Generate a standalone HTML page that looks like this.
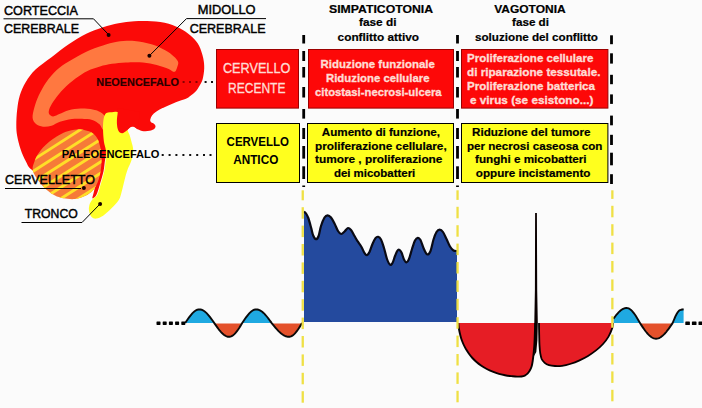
<!DOCTYPE html>
<html><head><meta charset="utf-8"><title>Schema</title>
<style>
html,body{margin:0;padding:0;background:#fbfbfb;}
body{width:702px;height:408px;overflow:hidden;}
svg{display:block;}
text{font-family:"Liberation Sans",sans-serif;}
</style></head><body>
<svg width="702" height="408" viewBox="0 0 702 408">
<rect x="0" y="0" width="702" height="408" fill="#fbfbfb"/>
<path d="M16.3 125.0C16.3 120.6 16.6 114.4 17.2 109.5C17.8 104.6 18.3 100.4 19.7 95.8C21.1 91.2 23.2 86.4 25.8 82.0C28.4 77.6 31.2 73.6 35.5 69.5C39.8 65.4 46.0 61.4 51.5 57.2C57.0 53.0 63.0 48.2 68.7 44.3C74.4 40.4 80.1 36.9 85.8 34.0C91.5 31.1 97.5 29.0 103.0 27.2C108.5 25.4 113.3 24.3 118.5 23.3C123.7 22.3 128.8 21.6 134.3 21.2C139.8 20.8 145.8 20.8 151.5 21.2C157.2 21.6 163.5 22.3 168.7 23.7C173.8 25.1 178.4 27.4 182.4 29.7C186.4 32.0 189.9 34.8 192.7 37.5C195.5 40.2 197.4 42.6 199.2 46.0C200.9 49.4 202.4 54.3 203.2 58.0C204.0 61.7 204.3 64.9 204.2 68.4C204.1 71.9 203.4 76.2 202.7 79.0C201.9 81.8 200.9 83.4 199.7 85.5C198.5 87.6 197.2 89.8 195.6 91.5C194.0 93.2 191.8 94.8 190.2 96.0C188.6 97.2 188.4 97.7 186.0 98.7C183.6 99.7 179.3 100.8 175.8 102.2C172.3 103.6 167.5 105.8 165.0 106.9C162.5 108.0 162.3 107.9 160.6 108.9C158.9 109.9 156.3 111.5 154.8 112.7C153.3 113.9 152.4 114.9 151.6 116.2C150.8 117.5 150.2 119.2 150.2 120.3C150.2 121.4 150.8 122.0 151.4 122.6C152.0 123.2 153.2 123.1 153.9 123.7C154.6 124.3 155.4 125.1 155.5 126.0C155.6 126.9 155.2 128.2 154.2 129.0C153.2 129.8 151.4 130.4 149.6 130.8C147.8 131.2 145.6 131.5 143.6 131.2C141.6 130.9 139.3 130.0 137.6 129.2C135.9 128.4 134.6 126.9 133.3 126.6C132.0 126.3 131.0 126.7 129.9 127.4C128.8 128.1 127.8 129.8 126.5 130.8C125.2 131.8 123.5 133.2 122.2 133.3C120.9 133.4 119.7 132.7 118.9 131.6C118.1 130.5 117.5 128.4 117.2 126.5C116.9 124.6 116.8 122.2 116.9 120.0C117.0 117.8 118.6 113.8 117.6 113.5C116.6 113.2 112.6 114.4 111.0 118.0C109.4 121.6 108.7 129.7 108.0 135.0C107.3 140.3 107.5 145.9 107.0 150.0C106.5 154.1 105.7 156.2 105.1 159.8C104.5 163.4 104.3 167.7 103.5 171.6C102.7 175.5 101.4 179.4 100.2 183.3C99.0 187.2 97.6 192.6 96.3 195.1C95.0 197.6 92.9 198.7 92.4 198.3C92.0 198.0 93.0 195.5 93.6 193.0C94.2 190.5 95.4 186.1 96.0 183.3C96.6 180.5 99.7 176.6 97.0 176.0C94.3 175.4 87.8 179.3 80.0 180.0C72.2 180.7 58.0 181.7 50.0 180.0C42.0 178.3 35.8 172.9 31.8 169.8C27.8 166.7 27.7 164.6 25.8 161.2C23.9 157.8 22.0 153.4 20.6 149.2C19.2 145.0 17.9 140.0 17.2 136.0C16.5 132.0 16.3 129.4 16.3 125.0Z" fill="#fb0a08"/>
<path d="M174.7 71.8C176.2 71.3 177.0 67.7 177.6 66.0C178.2 64.3 178.6 63.1 178.0 61.5C177.4 59.9 175.9 58.3 173.8 56.4C171.7 54.5 168.9 52.3 165.2 50.3C161.5 48.3 156.7 45.9 151.5 44.3C146.3 42.7 140.1 41.3 134.3 40.9C128.6 40.5 122.2 41.0 117.0 41.8C111.8 42.6 108.2 43.8 103.0 45.5C97.8 47.2 91.5 49.3 85.8 52.0C80.1 54.7 73.5 58.5 68.7 61.5C63.9 64.5 60.4 66.6 56.7 70.0C53.0 73.4 49.4 77.7 46.4 82.0C43.4 86.3 40.6 91.5 38.6 95.8C36.6 100.1 35.3 104.1 34.3 107.8C33.3 111.5 32.3 115.3 32.6 118.0C32.9 120.7 34.3 122.5 36.0 124.0C37.7 125.5 40.4 126.4 43.0 126.7C45.6 127.0 48.7 126.6 51.5 125.8C54.3 125.0 56.6 122.9 60.0 121.8C63.4 120.7 67.7 119.5 72.0 119.0C76.3 118.5 82.3 118.8 85.8 119.0C89.3 119.2 90.7 119.3 93.0 120.2C95.3 121.1 97.8 122.7 99.5 124.3C101.2 125.9 102.4 130.4 103.5 130.0C104.6 129.6 105.8 124.4 106.0 122.0C106.2 119.6 105.8 117.5 104.6 115.7C103.4 114.0 101.0 112.5 99.0 111.5C97.0 110.5 95.8 110.0 92.7 109.5C89.7 109.0 84.7 108.5 80.7 108.6C76.7 108.7 72.2 109.4 68.7 110.3C65.2 111.2 62.6 112.8 60.0 113.8C57.4 114.8 55.0 116.4 53.2 116.4C51.4 116.4 49.6 115.2 49.0 113.8C48.4 112.4 48.8 110.2 49.8 107.8C50.8 105.4 52.7 102.3 55.0 99.2C57.3 96.1 60.1 92.3 63.5 88.9C66.9 85.5 71.5 81.6 75.5 78.6C79.5 75.6 83.4 73.0 87.5 71.0C91.6 69.0 95.9 67.7 100.0 66.5C104.1 65.3 107.7 64.5 112.0 63.8C116.3 63.1 120.6 62.6 125.8 62.4C130.9 62.2 137.8 62.0 142.9 62.4C148.1 62.8 152.4 63.8 156.7 64.9C161.0 66.0 165.7 67.8 168.7 68.9C171.7 70.1 173.2 72.3 174.7 71.8Z" fill="#ff7840"/>
<defs><clipPath id="cc"><path d="M76.9 129.4C80.1 129.2 82.4 129.7 85.0 130.3C87.6 130.9 90.5 131.6 92.7 133.2C94.9 134.8 96.7 137.0 98.0 139.8C99.3 142.6 100.2 146.6 100.8 150.0C101.4 153.4 101.6 156.5 101.6 160.0C101.6 163.5 101.2 167.3 100.6 171.0C100.0 174.7 99.1 178.8 97.8 182.0C96.5 185.2 95.0 187.9 93.0 190.2C91.0 192.5 88.5 194.3 85.5 195.8C82.5 197.3 78.9 198.6 75.2 199.0C71.5 199.4 66.6 198.9 63.2 198.3C59.8 197.7 57.6 196.9 55.0 195.6C52.4 194.3 50.2 192.9 47.5 190.6C44.8 188.2 41.5 184.8 39.0 181.5C36.5 178.2 33.6 173.8 32.8 170.5C32.0 167.2 33.4 164.8 34.3 162.0C35.2 159.2 36.5 156.4 38.0 154.0C39.5 151.6 41.1 149.6 43.0 147.5C44.9 145.4 47.2 143.3 49.5 141.5C51.8 139.7 54.0 138.1 56.7 136.5C59.5 134.9 62.6 133.0 66.0 131.8C69.4 130.6 73.7 129.7 76.9 129.4Z"/></clipPath></defs>
<path d="M76.9 129.4C80.1 129.2 82.4 129.7 85.0 130.3C87.6 130.9 90.5 131.6 92.7 133.2C94.9 134.8 96.7 137.0 98.0 139.8C99.3 142.6 100.2 146.6 100.8 150.0C101.4 153.4 101.6 156.5 101.6 160.0C101.6 163.5 101.2 167.3 100.6 171.0C100.0 174.7 99.1 178.8 97.8 182.0C96.5 185.2 95.0 187.9 93.0 190.2C91.0 192.5 88.5 194.3 85.5 195.8C82.5 197.3 78.9 198.6 75.2 199.0C71.5 199.4 66.6 198.9 63.2 198.3C59.8 197.7 57.6 196.9 55.0 195.6C52.4 194.3 50.2 192.9 47.5 190.6C44.8 188.2 41.5 184.8 39.0 181.5C36.5 178.2 33.6 173.8 32.8 170.5C32.0 167.2 33.4 164.8 34.3 162.0C35.2 159.2 36.5 156.4 38.0 154.0C39.5 151.6 41.1 149.6 43.0 147.5C44.9 145.4 47.2 143.3 49.5 141.5C51.8 139.7 54.0 138.1 56.7 136.5C59.5 134.9 62.6 133.0 66.0 131.8C69.4 130.6 73.7 129.7 76.9 129.4Z" fill="#f67a38"/>
<g clip-path="url(#cc)" stroke="#ffde28" stroke-width="2.9"><line x1="20.0" y1="157.0" x2="115.0" y2="96.2"/><line x1="20.0" y1="168.3" x2="115.0" y2="107.5"/><line x1="20.0" y1="179.6" x2="115.0" y2="118.8"/><line x1="20.0" y1="190.9" x2="115.0" y2="130.1"/><line x1="20.0" y1="202.2" x2="115.0" y2="141.4"/><line x1="20.0" y1="213.5" x2="115.0" y2="152.7"/><line x1="20.0" y1="224.8" x2="115.0" y2="164.0"/><line x1="20.0" y1="236.1" x2="115.0" y2="175.3"/><line x1="20.0" y1="247.4" x2="115.0" y2="186.6"/></g>
<path d="M112.0 112.2C113.3 112.1 114.3 111.5 116.0 111.8C117.7 112.1 120.3 112.3 122.0 114.0C123.7 115.7 125.1 119.3 126.0 122.0C126.9 124.7 126.9 127.9 127.5 130.0C128.1 132.1 128.8 132.9 129.5 134.8C130.2 136.7 130.8 139.0 131.4 141.5C132.0 144.0 133.2 146.9 133.2 150.0C133.2 153.1 132.5 156.5 131.6 159.8C130.7 163.1 128.8 166.3 127.6 169.6C126.4 172.9 125.7 175.8 124.7 179.4C123.7 183.0 122.8 187.8 121.8 191.2C120.8 194.6 120.6 197.1 118.8 200.0C117.0 202.9 113.6 206.2 111.0 208.8C108.4 211.4 105.5 214.1 103.1 215.7C100.6 217.3 98.2 218.4 96.3 218.6C94.3 218.8 92.6 218.0 91.4 216.7C90.2 215.4 89.3 212.8 89.0 210.8C88.7 208.8 88.8 206.9 89.4 204.9C90.0 202.9 91.5 200.6 92.8 199.0C94.1 197.4 95.8 197.7 97.2 195.1C98.6 192.5 99.8 187.2 101.0 183.3C102.2 179.4 103.4 175.5 104.2 171.6C105.0 167.7 105.4 163.4 105.7 159.8C106.0 156.2 106.1 153.1 105.8 150.0C105.5 146.9 104.4 145.2 103.9 141.5C103.4 137.8 103.0 131.6 103.0 127.8C103.0 124.0 103.2 121.3 103.6 119.0C104.0 116.7 104.5 115.3 105.2 114.2C105.9 113.1 106.9 112.9 108.0 112.6C109.1 112.3 110.7 112.3 112.0 112.2Z" fill="#ffff28"/>
<path d="M117.6 113.5C117.5 114.6 117.0 117.8 116.9 120.0C116.8 122.2 116.9 124.6 117.2 126.5C117.5 128.4 118.1 130.5 118.9 131.6C119.7 132.7 120.9 133.4 122.2 133.3C123.5 133.2 125.2 131.8 126.5 130.8C127.8 129.8 128.8 128.1 129.9 127.4C131.0 126.7 132.0 126.3 133.3 126.6C134.6 126.9 136.9 128.8 137.6 129.2L140 112L118 108Z" fill="#fb0a08"/>
<g stroke="#000" stroke-width="1" fill="none">
<path d="M3.5 18.8H93.5L108.5 34.6"/>
<path d="M266 18.6H186.5L149.5 55.6"/>
<path d="M5 188.5H81"/>
<path d="M21.5 222.5H82L100 204"/>
</g>
<g fill="#1a0000">
<circle cx="108.6" cy="34.9" r="2"/>
<circle cx="149.4" cy="55.8" r="2"/>
<circle cx="83.9" cy="188.0" r="2"/>
<circle cx="100.1" cy="203.9" r="2"/>
</g>
<g fill="#111"><rect x="182.6" y="81" width="2" height="2" fill="#8a0000"/><rect x="189.0" y="81" width="2" height="2" fill="#8a0000"/><rect x="195.5" y="81" width="2" height="2" fill="#8a0000"/><rect x="204.6" y="81" width="2" height="2"/><rect x="211.0" y="81" width="2" height="2"/><rect x="161.7" y="154" width="2" height="2"/><rect x="168.6" y="154" width="2" height="2"/><rect x="175.4" y="154" width="2" height="2"/><rect x="182.4" y="154" width="2" height="2"/><rect x="189.2" y="154" width="2" height="2"/><rect x="196.2" y="154" width="2" height="2"/><rect x="203.0" y="154" width="2" height="2"/><rect x="209.5" y="154" width="2" height="2"/></g>
<text x="4.0" y="15.4" font-size="13.4" font-weight="normal" fill="#000" text-anchor="start" textLength="74.0" lengthAdjust="spacingAndGlyphs" stroke="#000" stroke-width="0.45">CORTECCIA</text>
<text x="4.0" y="32.5" font-size="13.4" font-weight="normal" fill="#000" text-anchor="start" textLength="75.0" lengthAdjust="spacingAndGlyphs" stroke="#000" stroke-width="0.45">CEREBRALE</text>
<text x="197.8" y="13.6" font-size="13.4" font-weight="normal" fill="#000" text-anchor="start" textLength="57.8" lengthAdjust="spacingAndGlyphs" stroke="#000" stroke-width="0.45">MIDOLLO</text>
<text x="189.7" y="32.7" font-size="13.4" font-weight="normal" fill="#000" text-anchor="start" textLength="75.8" lengthAdjust="spacingAndGlyphs" stroke="#000" stroke-width="0.45">CEREBRALE</text>
<text x="5.1" y="183.5" font-size="13.4" font-weight="normal" fill="#000" text-anchor="start" textLength="89.8" lengthAdjust="spacingAndGlyphs" stroke="#000" stroke-width="0.45">CERVELLETTO</text>
<text x="24.8" y="218.1" font-size="13.4" font-weight="normal" fill="#000" text-anchor="start" textLength="53.0" lengthAdjust="spacingAndGlyphs" stroke="#000" stroke-width="0.45">TRONCO</text>
<text x="96.3" y="86.2" font-size="11.7" font-weight="bold" fill="#2a0000" text-anchor="start" textLength="82.6" lengthAdjust="spacingAndGlyphs" stroke="#2a0000" stroke-width="0.2">NEOENCEFALO</text>
<text x="61.7" y="158.4" font-size="11.7" font-weight="bold" fill="#000" text-anchor="start" textLength="97.8" lengthAdjust="spacingAndGlyphs">PALEOENCEFALO</text>
<rect x="216.5" y="49.5" width="82.0" height="58.6" fill="#fd0808" stroke="#9c0000" stroke-width="1"/>
<rect x="308.5" y="49.5" width="145.0" height="58.6" fill="#fd0808" stroke="#9c0000" stroke-width="1"/>
<rect x="461.5" y="49.5" width="146.4" height="58.6" fill="#fd0808" stroke="#9c0000" stroke-width="1"/>
<rect x="216.5" y="123.5" width="83.0" height="59.0" fill="#ffff1e" stroke="#000" stroke-width="1"/>
<rect x="307.5" y="123.5" width="146.0" height="59.0" fill="#ffff1e" stroke="#000" stroke-width="1"/>
<rect x="461.5" y="123.5" width="146.4" height="59.0" fill="#ffff1e" stroke="#000" stroke-width="1"/>
<text x="222.9" y="73.2" font-size="14.6" font-weight="normal" fill="#ffdcd4" text-anchor="start" textLength="67.4" lengthAdjust="spacingAndGlyphs" stroke="#ffdcd4" stroke-width="0.35">CERVELLO</text>
<text x="228.0" y="92.9" font-size="14.6" font-weight="normal" fill="#ffdcd4" text-anchor="start" textLength="57.5" lengthAdjust="spacingAndGlyphs" stroke="#ffdcd4" stroke-width="0.35">RECENTE</text>
<text x="226.6" y="146.2" font-size="13" font-weight="bold" fill="#000" text-anchor="start" textLength="62.3" lengthAdjust="spacingAndGlyphs">CERVELLO</text>
<text x="233.2" y="163.8" font-size="13" font-weight="bold" fill="#000" text-anchor="start" textLength="45.1" lengthAdjust="spacingAndGlyphs">ANTICO</text>
<text x="329.0" y="12.6" font-size="11.7" font-weight="bold" fill="#000" text-anchor="start" textLength="104.0" lengthAdjust="spacingAndGlyphs" stroke="#000" stroke-width="0.2">SIMPATICOTONIA</text>
<text x="359.0" y="26.2" font-size="11.7" font-weight="bold" fill="#000" text-anchor="start" textLength="37.5" lengthAdjust="spacingAndGlyphs" stroke="#000" stroke-width="0.2">fase di</text>
<text x="337.6" y="40.6" font-size="11.7" font-weight="bold" fill="#000" text-anchor="start" textLength="81.4" lengthAdjust="spacingAndGlyphs" stroke="#000" stroke-width="0.2">conflitto attivo</text>
<text x="494.2" y="12.6" font-size="11.7" font-weight="bold" fill="#000" text-anchor="start" textLength="71.5" lengthAdjust="spacingAndGlyphs" stroke="#000" stroke-width="0.2">VAGOTONIA</text>
<text x="512.0" y="26.0" font-size="11.7" font-weight="bold" fill="#000" text-anchor="start" textLength="37.0" lengthAdjust="spacingAndGlyphs" stroke="#000" stroke-width="0.2">fase di</text>
<text x="475.0" y="40.6" font-size="11.7" font-weight="bold" fill="#000" text-anchor="start" textLength="123.0" lengthAdjust="spacingAndGlyphs" stroke="#000" stroke-width="0.2">soluzione del conflitto</text>
<text x="320.6" y="67.7" font-size="11.7" font-weight="bold" fill="#ffdcd4" text-anchor="start" textLength="114.3" lengthAdjust="spacingAndGlyphs" stroke="#ffdcd4" stroke-width="0.35">Riduzione funzionale</text>
<text x="326.0" y="81.6" font-size="11.7" font-weight="bold" fill="#ffdcd4" text-anchor="start" textLength="103.5" lengthAdjust="spacingAndGlyphs" stroke="#ffdcd4" stroke-width="0.35">Riduzione cellulare</text>
<text x="315.0" y="95.8" font-size="11.7" font-weight="bold" fill="#ffdcd4" text-anchor="start" textLength="126.6" lengthAdjust="spacingAndGlyphs" stroke="#ffdcd4" stroke-width="0.35">citostasi-necrosi-ulcera</text>
<text x="467.0" y="62.2" font-size="11.7" font-weight="bold" fill="#ffdcd4" text-anchor="start" textLength="126.4" lengthAdjust="spacingAndGlyphs" stroke="#ffdcd4" stroke-width="0.35">Proliferazione cellulare</text>
<text x="467.0" y="76.2" font-size="11.7" font-weight="bold" fill="#ffdcd4" text-anchor="start" textLength="133.4" lengthAdjust="spacingAndGlyphs" stroke="#ffdcd4" stroke-width="0.35">di riparazione tessutale.</text>
<text x="467.0" y="90.1" font-size="11.7" font-weight="bold" fill="#ffdcd4" text-anchor="start" textLength="128.0" lengthAdjust="spacingAndGlyphs" stroke="#ffdcd4" stroke-width="0.35">Proliferazione batterica</text>
<text x="470.0" y="104.2" font-size="11.7" font-weight="bold" fill="#ffdcd4" text-anchor="start" textLength="123.4" lengthAdjust="spacingAndGlyphs" stroke="#ffdcd4" stroke-width="0.35">e virus (se esistono...)</text>
<text x="321.8" y="135.5" font-size="11.7" font-weight="bold" fill="#000" text-anchor="start" textLength="118.2" lengthAdjust="spacingAndGlyphs" stroke="#000" stroke-width="0.2">Aumento di funzione,</text>
<text x="315.0" y="150.0" font-size="11.7" font-weight="bold" fill="#000" text-anchor="start" textLength="131.7" lengthAdjust="spacingAndGlyphs" stroke="#000" stroke-width="0.2">proliferazione cellulare,</text>
<text x="315.0" y="163.2" font-size="11.7" font-weight="bold" fill="#000" text-anchor="start" textLength="127.4" lengthAdjust="spacingAndGlyphs" stroke="#000" stroke-width="0.2">tumore , proliferazione</text>
<text x="333.9" y="177.0" font-size="11.7" font-weight="bold" fill="#000" text-anchor="start" textLength="81.4" lengthAdjust="spacingAndGlyphs" stroke="#000" stroke-width="0.2">dei micobatteri</text>
<text x="472.0" y="136.0" font-size="11.7" font-weight="bold" fill="#000" text-anchor="start" textLength="118.4" lengthAdjust="spacingAndGlyphs" stroke="#000" stroke-width="0.2">Riduzione del tumore</text>
<text x="467.0" y="150.0" font-size="11.7" font-weight="bold" fill="#000" text-anchor="start" textLength="135.4" lengthAdjust="spacingAndGlyphs" stroke="#000" stroke-width="0.2">per necrosi caseosa con</text>
<text x="475.0" y="163.4" font-size="11.7" font-weight="bold" fill="#000" text-anchor="start" textLength="111.6" lengthAdjust="spacingAndGlyphs" stroke="#000" stroke-width="0.2">funghi e micobatteri</text>
<text x="475.8" y="177.2" font-size="11.7" font-weight="bold" fill="#000" text-anchor="start" textLength="114.6" lengthAdjust="spacingAndGlyphs" stroke="#000" stroke-width="0.2">oppure incistamento</text>
<g fill="#000"><rect x="302.3" y="35.0" width="2.8" height="8.5"/><rect x="302.3" y="51.0" width="2.8" height="10.0"/><rect x="302.3" y="67.0" width="2.8" height="10.5"/><rect x="302.3" y="87.0" width="2.8" height="10.5"/><rect x="302.3" y="109.0" width="2.8" height="9.6"/><rect x="302.3" y="128.0" width="2.8" height="11.0"/><rect x="302.3" y="146.0" width="2.8" height="12.6"/><rect x="302.3" y="166.3" width="2.8" height="12.7"/><rect x="302.3" y="185.5" width="2.8" height="1.5"/><rect x="456.1" y="35.0" width="2.8" height="8.5"/><rect x="456.1" y="51.0" width="2.8" height="10.0"/><rect x="456.1" y="67.0" width="2.8" height="10.5"/><rect x="456.1" y="87.0" width="2.8" height="10.5"/><rect x="456.1" y="109.0" width="2.8" height="9.6"/><rect x="456.1" y="128.0" width="2.8" height="11.0"/><rect x="456.1" y="146.0" width="2.8" height="12.6"/><rect x="456.1" y="166.3" width="2.8" height="12.7"/><rect x="456.1" y="185.5" width="2.8" height="1.5"/><rect x="610.1" y="35.3" width="2.8" height="8.9"/><rect x="610.1" y="53.3" width="2.8" height="10.3"/><rect x="610.1" y="74.8" width="2.8" height="9.4"/><rect x="610.1" y="94.4" width="2.8" height="9.5"/><rect x="610.1" y="115.6" width="2.8" height="9.7"/><rect x="610.1" y="134.8" width="2.8" height="10.2"/><rect x="610.1" y="152.7" width="2.8" height="12.6"/><rect x="610.1" y="174.2" width="2.8" height="9.8"/></g>
<path d="M304.0 211.5C304.3 211.8 305.3 212.4 306.0 213.5C306.7 214.6 307.4 215.6 308.3 218.0C309.2 220.4 310.4 225.1 311.2 228.0C312.0 230.9 312.4 233.6 313.2 235.5C314.0 237.4 315.0 239.1 315.9 239.2C316.8 239.3 317.8 238.2 318.6 236.0C319.5 233.8 320.0 229.1 321.0 226.0C322.0 222.9 323.4 219.3 324.5 217.5C325.6 215.7 326.5 215.3 327.6 215.3C328.7 215.3 329.9 216.1 331.0 217.5C332.1 218.9 333.3 221.2 334.5 223.5C335.7 225.8 336.9 229.2 338.0 231.0C339.1 232.8 340.1 233.9 341.2 234.0C342.3 234.1 343.5 232.5 344.6 231.5C345.7 230.5 346.9 228.2 348.0 228.0C349.1 227.8 349.9 228.7 351.0 230.0C352.1 231.3 353.4 234.1 354.5 236.0C355.6 237.9 356.5 239.6 357.7 241.4C358.9 243.2 360.4 245.1 361.5 247.0C362.6 248.9 363.6 251.6 364.5 253.0C365.4 254.4 366.0 255.4 366.8 255.2C367.6 255.0 368.6 253.9 369.5 252.0C370.4 250.1 371.5 246.3 372.5 244.0C373.5 241.7 374.6 239.4 375.5 238.2C376.4 237.0 377.3 236.6 378.2 236.8C379.1 237.0 380.0 237.6 381.0 239.5C382.0 241.4 383.0 244.8 384.0 248.0C385.0 251.2 386.0 256.2 387.0 259.0C388.0 261.8 389.1 264.0 390.0 264.7C390.9 265.4 391.7 264.4 392.5 263.0C393.3 261.6 394.2 258.0 395.0 256.0C395.8 254.0 396.5 252.1 397.2 251.0C397.9 249.9 398.5 249.4 399.2 249.7C399.9 249.9 400.7 250.9 401.5 252.5C402.3 254.1 403.2 257.9 404.0 259.5C404.8 261.1 405.7 262.4 406.5 262.3C407.3 262.2 408.1 261.2 409.0 259.0C409.9 256.8 411.0 252.1 412.0 249.0C413.0 245.9 414.0 242.4 415.0 240.5C416.0 238.6 416.9 237.9 417.8 237.8C418.7 237.7 419.5 238.2 420.5 240.0C421.5 241.8 422.6 246.1 423.7 248.5C424.8 250.9 425.9 253.8 427.0 254.3C428.1 254.8 429.2 254.0 430.3 251.5C431.4 249.0 432.5 242.8 433.5 239.5C434.5 236.2 435.5 233.6 436.5 232.0C437.5 230.4 438.5 229.7 439.6 229.7C440.7 229.7 441.9 230.4 443.0 232.0C444.1 233.6 445.3 236.6 446.5 239.0C447.7 241.4 448.8 244.6 450.0 246.5C451.2 248.4 452.3 249.8 453.5 250.5C454.7 251.2 456.4 250.9 457.0 251.0L457 322L304 322Z" fill="#244a9e"/>
<path d="M304.0 211.5C304.3 211.8 305.3 212.4 306.0 213.5C306.7 214.6 307.4 215.6 308.3 218.0C309.2 220.4 310.4 225.1 311.2 228.0C312.0 230.9 312.4 233.6 313.2 235.5C314.0 237.4 315.0 239.1 315.9 239.2C316.8 239.3 317.8 238.2 318.6 236.0C319.5 233.8 320.0 229.1 321.0 226.0C322.0 222.9 323.4 219.3 324.5 217.5C325.6 215.7 326.5 215.3 327.6 215.3C328.7 215.3 329.9 216.1 331.0 217.5C332.1 218.9 333.3 221.2 334.5 223.5C335.7 225.8 336.9 229.2 338.0 231.0C339.1 232.8 340.1 233.9 341.2 234.0C342.3 234.1 343.5 232.5 344.6 231.5C345.7 230.5 346.9 228.2 348.0 228.0C349.1 227.8 349.9 228.7 351.0 230.0C352.1 231.3 353.4 234.1 354.5 236.0C355.6 237.9 356.5 239.6 357.7 241.4C358.9 243.2 360.4 245.1 361.5 247.0C362.6 248.9 363.6 251.6 364.5 253.0C365.4 254.4 366.0 255.4 366.8 255.2C367.6 255.0 368.6 253.9 369.5 252.0C370.4 250.1 371.5 246.3 372.5 244.0C373.5 241.7 374.6 239.4 375.5 238.2C376.4 237.0 377.3 236.6 378.2 236.8C379.1 237.0 380.0 237.6 381.0 239.5C382.0 241.4 383.0 244.8 384.0 248.0C385.0 251.2 386.0 256.2 387.0 259.0C388.0 261.8 389.1 264.0 390.0 264.7C390.9 265.4 391.7 264.4 392.5 263.0C393.3 261.6 394.2 258.0 395.0 256.0C395.8 254.0 396.5 252.1 397.2 251.0C397.9 249.9 398.5 249.4 399.2 249.7C399.9 249.9 400.7 250.9 401.5 252.5C402.3 254.1 403.2 257.9 404.0 259.5C404.8 261.1 405.7 262.4 406.5 262.3C407.3 262.2 408.1 261.2 409.0 259.0C409.9 256.8 411.0 252.1 412.0 249.0C413.0 245.9 414.0 242.4 415.0 240.5C416.0 238.6 416.9 237.9 417.8 237.8C418.7 237.7 419.5 238.2 420.5 240.0C421.5 241.8 422.6 246.1 423.7 248.5C424.8 250.9 425.9 253.8 427.0 254.3C428.1 254.8 429.2 254.0 430.3 251.5C431.4 249.0 432.5 242.8 433.5 239.5C434.5 236.2 435.5 233.6 436.5 232.0C437.5 230.4 438.5 229.7 439.6 229.7C440.7 229.7 441.9 230.4 443.0 232.0C444.1 233.6 445.3 236.6 446.5 239.0C447.7 241.4 448.8 244.6 450.0 246.5C451.2 248.4 452.3 249.8 453.5 250.5C454.7 251.2 456.4 250.9 457.0 251.0" fill="none" stroke="#0a0a14" stroke-width="2.2" stroke-linejoin="round"/>
<path d="M458.3 323.0C458.4 323.8 458.5 326.2 458.8 328.0C459.1 329.8 459.5 331.8 459.9 333.5C460.3 335.2 460.7 336.8 461.2 338.5C461.7 340.2 462.4 341.8 463.1 343.5C463.8 345.2 464.7 346.8 465.6 348.5C466.6 350.2 467.7 351.9 468.8 353.5C469.9 355.1 471.1 356.6 472.4 358.0C473.7 359.4 475.0 360.7 476.5 362.0C478.0 363.3 479.7 364.6 481.4 365.8C483.1 367.0 484.9 368.0 486.8 369.0C488.7 370.0 490.7 370.9 492.7 371.7C494.7 372.5 496.9 373.3 499.0 373.9C501.1 374.5 502.9 374.8 505.0 375.2C507.1 375.6 509.5 375.9 511.5 376.1C513.5 376.3 515.3 376.5 517.0 376.6C518.7 376.7 520.2 376.7 521.5 376.5C522.8 376.3 523.8 376.1 524.8 375.6C525.8 375.1 526.7 374.5 527.5 373.7C528.3 372.9 529.1 371.8 529.8 370.6C530.5 369.4 531.1 368.1 531.6 366.5C532.1 364.9 532.4 363.0 532.7 361.0C533.0 359.0 533.2 356.8 533.5 354.5C533.8 352.2 534.0 349.4 534.2 347.0C534.4 344.6 534.4 344.0 534.6 340.0C534.8 336.0 535.1 325.8 535.2 323.0Z" fill="#e61d25"/>
<path d="M539.0 323.0C539.0 325.0 539.1 331.3 539.2 335.0C539.3 338.7 539.3 342.0 539.5 345.0C539.7 348.0 539.9 350.7 540.2 353.0C540.6 355.3 540.9 357.2 541.6 358.8C542.4 360.4 543.5 361.7 544.7 362.8C545.9 363.9 547.3 364.7 549.0 365.2C550.7 365.7 552.8 365.9 555.0 366.0C557.2 366.1 559.5 366.1 562.0 365.8C564.5 365.5 567.2 364.9 570.0 364.0C572.8 363.1 576.0 362.0 579.0 360.6C582.0 359.2 585.2 357.6 588.0 355.9C590.8 354.2 593.5 352.4 596.0 350.4C598.5 348.4 600.9 346.3 603.0 344.0C605.1 341.7 606.9 339.3 608.5 336.6C610.1 333.9 611.6 329.9 612.4 327.6C613.1 325.3 612.9 323.8 613.0 323.0Z" fill="#e61d25"/>
<path d="M458.3 323.0C458.4 323.8 458.5 326.2 458.8 328.0C459.1 329.8 459.5 331.8 459.9 333.5C460.3 335.2 460.7 336.8 461.2 338.5C461.7 340.2 462.4 341.8 463.1 343.5C463.8 345.2 464.7 346.8 465.6 348.5C466.6 350.2 467.7 351.9 468.8 353.5C469.9 355.1 471.1 356.6 472.4 358.0C473.7 359.4 475.0 360.7 476.5 362.0C478.0 363.3 479.7 364.6 481.4 365.8C483.1 367.0 484.9 368.0 486.8 369.0C488.7 370.0 490.7 370.9 492.7 371.7C494.7 372.5 496.9 373.3 499.0 373.9C501.1 374.5 502.9 374.8 505.0 375.2C507.1 375.6 509.5 375.9 511.5 376.1C513.5 376.3 515.3 376.5 517.0 376.6C518.7 376.7 520.2 376.7 521.5 376.5C522.8 376.3 523.8 376.1 524.8 375.6C525.8 375.1 526.7 374.5 527.5 373.7C528.3 372.9 529.1 371.8 529.8 370.6C530.5 369.4 531.1 368.1 531.6 366.5C532.1 364.9 532.4 363.0 532.7 361.0C533.0 359.0 533.2 356.8 533.5 354.5C533.8 352.2 534.0 349.4 534.2 347.0C534.4 344.6 534.4 344.0 534.6 340.0C534.8 336.0 535.1 325.8 535.2 323.0" fill="none" stroke="#0a0000" stroke-width="1.9"/>
<path d="M539.0 323.0C539.0 325.0 539.1 331.3 539.2 335.0C539.3 338.7 539.3 342.0 539.5 345.0C539.7 348.0 539.9 350.7 540.2 353.0C540.6 355.3 540.9 357.2 541.6 358.8C542.4 360.4 543.5 361.7 544.7 362.8C545.9 363.9 547.3 364.7 549.0 365.2C550.7 365.7 552.8 365.9 555.0 366.0C557.2 366.1 559.5 366.1 562.0 365.8C564.5 365.5 567.2 364.9 570.0 364.0C572.8 363.1 576.0 362.0 579.0 360.6C582.0 359.2 585.2 357.6 588.0 355.9C590.8 354.2 593.5 352.4 596.0 350.4C598.5 348.4 600.9 346.3 603.0 344.0C605.1 341.7 606.9 339.3 608.5 336.6C610.1 333.9 611.6 329.9 612.4 327.6C613.1 325.3 612.9 323.8 613.0 323.0" fill="none" stroke="#0a0000" stroke-width="1.8"/>
<path d="M535.1 213L534.9 290L534.3 323L534.6 342L534 356L536.3 352L537.4 340L537.8 323L537.2 290L536.9 213Z" fill="#0a0000"/>
<clipPath id="up185"><rect x="0" y="0" width="702" height="323.1"/></clipPath>
<clipPath id="dn185"><rect x="0" y="323.4" width="702" height="100"/></clipPath>
<path d="M185.20 323.10L186.21 321.57L187.23 320.05L188.24 318.58L189.26 317.16L190.27 315.81L191.29 314.56L192.30 313.41L193.31 312.39L194.33 311.50L195.34 310.76L196.36 310.17L197.37 309.74L198.39 309.49L199.40 309.40L200.46 309.49L201.53 309.74L202.59 310.17L203.66 310.76L204.72 311.50L205.79 312.39L206.85 313.41L207.91 314.56L208.98 315.81L210.04 317.16L211.11 318.58L212.17 320.05L213.24 321.57L214.30 323.10L215.36 324.63L216.41 326.15L217.47 327.62L218.53 329.04L219.59 330.39L220.64 331.64L221.70 332.79L222.76 333.81L223.81 334.70L224.87 335.44L225.93 336.03L226.99 336.46L228.04 336.71L229.10 336.80L230.11 336.70L231.12 336.40L232.12 335.91L233.13 335.23L234.14 334.37L235.15 333.35L236.15 332.18L237.16 330.88L238.17 329.47L239.18 327.96L240.18 326.38L241.19 324.75L242.20 323.10L243.21 321.57L244.21 320.05L245.22 318.58L246.23 317.16L247.24 315.81L248.24 314.56L249.25 313.41L250.26 312.39L251.26 311.50L252.27 310.76L253.28 310.17L254.29 309.74L255.29 309.49L256.30 309.40L257.33 309.48L258.35 309.70L259.38 310.07L260.41 310.58L261.43 311.24L262.46 312.02L263.49 312.92L264.51 313.93L265.54 315.05L266.57 316.25L267.59 317.53L268.62 318.87L269.65 320.25L270.67 321.67L271.70 323.10L272.72 324.36L273.74 325.62L274.75 326.85L275.77 328.05L276.79 329.21L277.81 330.31L278.82 331.36L279.84 332.33L280.86 333.22L281.88 334.03L282.89 334.75L283.91 335.36L284.93 335.87L285.95 336.28L286.96 336.57L287.98 336.74L289.00 336.80L290.00 336.70L291.00 336.40L292.00 335.91L293.00 335.23L294.00 334.37L295.00 333.35L296.00 332.18L297.00 330.88L298.00 329.47L299.00 327.96L300.00 326.38L301.00 324.75L302.00 323.10L302.0 323.1L185.2 323.1Z" fill="#1fa9e1" clip-path="url(#up185)"/>
<path d="M185.20 323.10L186.21 321.57L187.23 320.05L188.24 318.58L189.26 317.16L190.27 315.81L191.29 314.56L192.30 313.41L193.31 312.39L194.33 311.50L195.34 310.76L196.36 310.17L197.37 309.74L198.39 309.49L199.40 309.40L200.46 309.49L201.53 309.74L202.59 310.17L203.66 310.76L204.72 311.50L205.79 312.39L206.85 313.41L207.91 314.56L208.98 315.81L210.04 317.16L211.11 318.58L212.17 320.05L213.24 321.57L214.30 323.10L215.36 324.63L216.41 326.15L217.47 327.62L218.53 329.04L219.59 330.39L220.64 331.64L221.70 332.79L222.76 333.81L223.81 334.70L224.87 335.44L225.93 336.03L226.99 336.46L228.04 336.71L229.10 336.80L230.11 336.70L231.12 336.40L232.12 335.91L233.13 335.23L234.14 334.37L235.15 333.35L236.15 332.18L237.16 330.88L238.17 329.47L239.18 327.96L240.18 326.38L241.19 324.75L242.20 323.10L243.21 321.57L244.21 320.05L245.22 318.58L246.23 317.16L247.24 315.81L248.24 314.56L249.25 313.41L250.26 312.39L251.26 311.50L252.27 310.76L253.28 310.17L254.29 309.74L255.29 309.49L256.30 309.40L257.33 309.48L258.35 309.70L259.38 310.07L260.41 310.58L261.43 311.24L262.46 312.02L263.49 312.92L264.51 313.93L265.54 315.05L266.57 316.25L267.59 317.53L268.62 318.87L269.65 320.25L270.67 321.67L271.70 323.10L272.72 324.36L273.74 325.62L274.75 326.85L275.77 328.05L276.79 329.21L277.81 330.31L278.82 331.36L279.84 332.33L280.86 333.22L281.88 334.03L282.89 334.75L283.91 335.36L284.93 335.87L285.95 336.28L286.96 336.57L287.98 336.74L289.00 336.80L290.00 336.70L291.00 336.40L292.00 335.91L293.00 335.23L294.00 334.37L295.00 333.35L296.00 332.18L297.00 330.88L298.00 329.47L299.00 327.96L300.00 326.38L301.00 324.75L302.00 323.10L302.0 323.1L185.2 323.1Z" fill="#e4512b" clip-path="url(#dn185)"/>
<path d="M185.20 323.10L186.21 321.57L187.23 320.05L188.24 318.58L189.26 317.16L190.27 315.81L191.29 314.56L192.30 313.41L193.31 312.39L194.33 311.50L195.34 310.76L196.36 310.17L197.37 309.74L198.39 309.49L199.40 309.40L200.46 309.49L201.53 309.74L202.59 310.17L203.66 310.76L204.72 311.50L205.79 312.39L206.85 313.41L207.91 314.56L208.98 315.81L210.04 317.16L211.11 318.58L212.17 320.05L213.24 321.57L214.30 323.10L215.36 324.63L216.41 326.15L217.47 327.62L218.53 329.04L219.59 330.39L220.64 331.64L221.70 332.79L222.76 333.81L223.81 334.70L224.87 335.44L225.93 336.03L226.99 336.46L228.04 336.71L229.10 336.80L230.11 336.70L231.12 336.40L232.12 335.91L233.13 335.23L234.14 334.37L235.15 333.35L236.15 332.18L237.16 330.88L238.17 329.47L239.18 327.96L240.18 326.38L241.19 324.75L242.20 323.10L243.21 321.57L244.21 320.05L245.22 318.58L246.23 317.16L247.24 315.81L248.24 314.56L249.25 313.41L250.26 312.39L251.26 311.50L252.27 310.76L253.28 310.17L254.29 309.74L255.29 309.49L256.30 309.40L257.33 309.48L258.35 309.70L259.38 310.07L260.41 310.58L261.43 311.24L262.46 312.02L263.49 312.92L264.51 313.93L265.54 315.05L266.57 316.25L267.59 317.53L268.62 318.87L269.65 320.25L270.67 321.67L271.70 323.10L272.72 324.36L273.74 325.62L274.75 326.85L275.77 328.05L276.79 329.21L277.81 330.31L278.82 331.36L279.84 332.33L280.86 333.22L281.88 334.03L282.89 334.75L283.91 335.36L284.93 335.87L285.95 336.28L286.96 336.57L287.98 336.74L289.00 336.80L290.00 336.70L291.00 336.40L292.00 335.91L293.00 335.23L294.00 334.37L295.00 333.35L296.00 332.18L297.00 330.88L298.00 329.47L299.00 327.96L300.00 326.38L301.00 324.75L302.00 323.10" fill="none" stroke="#0a0a0a" stroke-width="1.9" stroke-linejoin="round"/>
<clipPath id="up613"><rect x="0" y="0" width="702" height="323.1"/></clipPath>
<clipPath id="dn613"><rect x="0" y="323.4" width="702" height="100"/></clipPath>
<path d="M613.52 318.72L614.52 317.32L615.53 315.98L616.54 314.71L617.54 313.52L618.55 312.42L619.56 311.43L620.56 310.54L621.57 309.78L622.58 309.15L623.58 308.65L624.59 308.29L625.59 308.07L626.60 308.00L627.63 308.11L628.66 308.44L629.69 308.98L630.72 309.73L631.75 310.67L632.78 311.80L633.82 313.09L634.85 314.52L635.88 316.08L636.91 317.75L637.94 319.49L638.97 321.28L640.00 323.10L641.00 324.63L642.00 326.14L643.00 327.63L644.00 329.07L645.00 330.45L646.00 331.77L647.00 333.00L648.00 334.13L649.00 335.16L650.00 336.07L651.00 336.86L652.00 337.51L653.00 338.03L654.00 338.40L655.00 338.62L656.00 338.70L657.04 338.62L658.08 338.40L659.11 338.03L660.15 337.51L661.19 336.86L662.23 336.07L663.26 335.16L664.30 334.13L665.34 333.00L666.38 331.77L667.41 330.45L668.45 329.07L669.49 327.63L670.52 326.14L671.56 324.63L672.60 323.10L673.65 320.51L674.70 318.01L675.75 315.71L676.80 313.70L677.85 312.04L678.90 310.81L679.95 310.06L681.00 309.80L682.40 309.50L683.60 309.30L683.6 323.1L613.5 323.1Z" fill="#1fa9e1" clip-path="url(#up613)"/>
<path d="M613.52 318.72L614.52 317.32L615.53 315.98L616.54 314.71L617.54 313.52L618.55 312.42L619.56 311.43L620.56 310.54L621.57 309.78L622.58 309.15L623.58 308.65L624.59 308.29L625.59 308.07L626.60 308.00L627.63 308.11L628.66 308.44L629.69 308.98L630.72 309.73L631.75 310.67L632.78 311.80L633.82 313.09L634.85 314.52L635.88 316.08L636.91 317.75L637.94 319.49L638.97 321.28L640.00 323.10L641.00 324.63L642.00 326.14L643.00 327.63L644.00 329.07L645.00 330.45L646.00 331.77L647.00 333.00L648.00 334.13L649.00 335.16L650.00 336.07L651.00 336.86L652.00 337.51L653.00 338.03L654.00 338.40L655.00 338.62L656.00 338.70L657.04 338.62L658.08 338.40L659.11 338.03L660.15 337.51L661.19 336.86L662.23 336.07L663.26 335.16L664.30 334.13L665.34 333.00L666.38 331.77L667.41 330.45L668.45 329.07L669.49 327.63L670.52 326.14L671.56 324.63L672.60 323.10L673.65 320.51L674.70 318.01L675.75 315.71L676.80 313.70L677.85 312.04L678.90 310.81L679.95 310.06L681.00 309.80L682.40 309.50L683.60 309.30L683.6 323.1L613.5 323.1Z" fill="#e4512b" clip-path="url(#dn613)"/>
<path d="M613.52 318.72L614.52 317.32L615.53 315.98L616.54 314.71L617.54 313.52L618.55 312.42L619.56 311.43L620.56 310.54L621.57 309.78L622.58 309.15L623.58 308.65L624.59 308.29L625.59 308.07L626.60 308.00L627.63 308.11L628.66 308.44L629.69 308.98L630.72 309.73L631.75 310.67L632.78 311.80L633.82 313.09L634.85 314.52L635.88 316.08L636.91 317.75L637.94 319.49L638.97 321.28L640.00 323.10L641.00 324.63L642.00 326.14L643.00 327.63L644.00 329.07L645.00 330.45L646.00 331.77L647.00 333.00L648.00 334.13L649.00 335.16L650.00 336.07L651.00 336.86L652.00 337.51L653.00 338.03L654.00 338.40L655.00 338.62L656.00 338.70L657.04 338.62L658.08 338.40L659.11 338.03L660.15 337.51L661.19 336.86L662.23 336.07L663.26 335.16L664.30 334.13L665.34 333.00L666.38 331.77L667.41 330.45L668.45 329.07L669.49 327.63L670.52 326.14L671.56 324.63L672.60 323.10L673.65 320.51L674.70 318.01L675.75 315.71L676.80 313.70L677.85 312.04L678.90 310.81L679.95 310.06L681.00 309.80L682.40 309.50L683.60 309.30" fill="none" stroke="#0a0a0a" stroke-width="1.9" stroke-linejoin="round"/>
<g fill="#000"><rect x="156.5" y="321.5" width="4" height="3.4" rx="0.6"/><rect x="162.7" y="321.5" width="4" height="3.4" rx="0.6"/><rect x="168.9" y="321.5" width="4" height="3.4" rx="0.6"/><rect x="175.1" y="321.5" width="4" height="3.4" rx="0.6"/><rect x="181.3" y="321.5" width="4" height="3.4" rx="0.6"/><rect x="685.3" y="321.5" width="4.6" height="3.5" rx="0.6"/><rect x="691.9" y="321.5" width="4.6" height="3.5" rx="0.6"/><rect x="698.5" y="321.5" width="4.6" height="3.5" rx="0.6"/></g>
<g fill="#efe045"><rect x="301.6" y="190.3" width="2.3" height="10.0"/><rect x="301.6" y="207.2" width="2.3" height="11.5"/><rect x="301.6" y="225.6" width="2.3" height="11.5"/><rect x="301.6" y="244.0" width="2.3" height="11.5"/><rect x="301.6" y="262.4" width="2.3" height="11.5"/><rect x="301.6" y="280.8" width="2.3" height="11.5"/><rect x="301.6" y="299.2" width="2.3" height="11.5"/><rect x="301.6" y="317.6" width="2.3" height="11.5"/><rect x="301.6" y="336.0" width="2.3" height="11.5"/><rect x="301.6" y="354.4" width="2.3" height="11.5"/><rect x="301.6" y="372.8" width="2.3" height="11.5"/><rect x="301.6" y="391.2" width="2.3" height="11.5"/><rect x="456.4" y="190.3" width="2.3" height="9.6"/><rect x="456.4" y="206.8" width="2.3" height="11.5"/><rect x="456.4" y="225.2" width="2.3" height="11.5"/><rect x="456.4" y="243.6" width="2.3" height="11.5"/><rect x="456.4" y="262.0" width="2.3" height="11.5"/><rect x="456.4" y="280.4" width="2.3" height="11.5"/><rect x="456.4" y="298.8" width="2.3" height="11.5"/><rect x="456.4" y="317.2" width="2.3" height="11.5"/><rect x="456.4" y="335.6" width="2.3" height="11.5"/><rect x="456.4" y="354.0" width="2.3" height="11.5"/><rect x="456.4" y="372.4" width="2.3" height="11.5"/><rect x="456.4" y="390.8" width="2.3" height="11.5"/><rect x="611.2" y="190.3" width="2.3" height="8.6"/><rect x="611.2" y="205.8" width="2.3" height="11.5"/><rect x="611.2" y="224.2" width="2.3" height="11.5"/><rect x="611.2" y="242.6" width="2.3" height="11.5"/><rect x="611.2" y="261.0" width="2.3" height="11.5"/><rect x="611.2" y="279.4" width="2.3" height="11.5"/><rect x="611.2" y="297.8" width="2.3" height="11.5"/><rect x="611.2" y="316.2" width="2.3" height="11.5"/><rect x="611.2" y="334.6" width="2.3" height="11.5"/><rect x="611.2" y="353.0" width="2.3" height="11.5"/><rect x="611.2" y="371.4" width="2.3" height="11.5"/><rect x="611.2" y="389.8" width="2.3" height="11.5"/></g>
</svg>
</body></html>
